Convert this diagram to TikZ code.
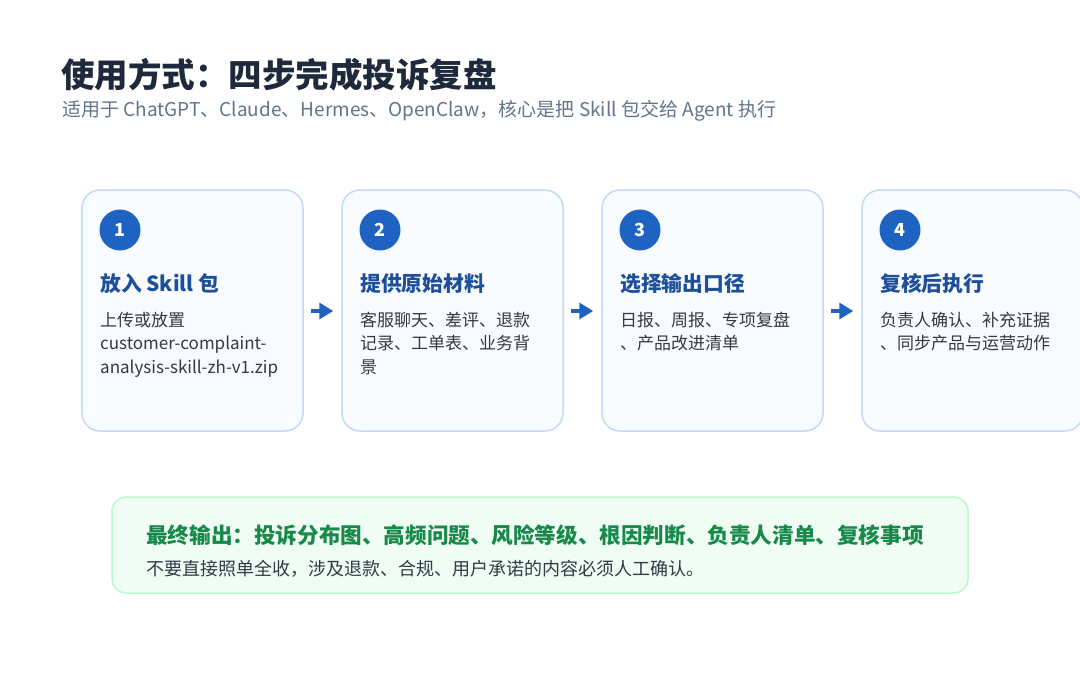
\documentclass[tikz,border=0pt]{standalone}
\usepackage{fontspec}
\setmainfont{Noto Sans CJK SC}
\usetikzlibrary{arrows.meta}
\definecolor{titlec}{HTML}{1E293B}
\definecolor{subc}{HTML}{64748B}
\definecolor{cardborder}{HTML}{C3D9F5}
\definecolor{cardfill}{HTML}{F8FBFF}
\definecolor{bluec}{HTML}{1E63C2}
\definecolor{headc}{HTML}{1D4F9A}
\definecolor{bodyc}{HTML}{333A45}
\definecolor{greenfill}{HTML}{F0FDF4}
\definecolor{greenborder}{HTML}{BBF7D0}
\definecolor{greenc}{HTML}{178A4A}
\tikzset{
  card/.style={draw=cardborder, line width=1.5pt, fill=cardfill, rounded corners=18pt,
    minimum width=221pt, minimum height=241pt, inner sep=0pt},
  numdot/.style={circle, fill=bluec, minimum size=41pt, inner sep=0pt, text=white,
    font=\fontsize{18}{20}\selectfont\bfseries},
  headtxt/.style={anchor=west, inner sep=0pt, text=headc, font=\fontsize{20.8}{24}\selectfont\bfseries},
  bodytxt/.style={anchor=north west, inner sep=0pt, text=bodyc, align=left,
    font=\fontsize{17}{23.3}\selectfont},
  flow/.style={draw=bluec, line width=4pt, -{Triangle[length=14pt,width=16pt]},
    shorten <=7pt, shorten >=8pt},
}
\begin{document}
\begin{tikzpicture}[x=1pt,y=-1pt]
\useasboundingbox (0,0) rectangle (1080,675);
\clip (0,0) rectangle (1080,675);
\fill[white] (0,0) rectangle (1080,675);
% title
\node[anchor=west, inner sep=0pt, text=titlec, font=\fontsize{33.5}{38}\selectfont\bfseries] (title) at (61,75) {使用方式：四步完成投诉复盘};
\node[anchor=west, inner sep=0pt, text=subc, font=\fontsize{19}{22}\selectfont] (sub) at (62,111) {适用于 ChatGPT、Claude、Hermes、OpenClaw，核心是把 Skill 包交给 Agent 执行};
% cards
\node[card] (c1) at (192.5,310.5) {};
\node[card] (c2) at (452.5,310.5) {};
\node[card] (c3) at (712.5,310.5) {};
\node[card] (c4) at (972.5,310.5) {};
% numbers
\node[numdot] (n1) at (120,230) {1};
\node[numdot] (n2) at (380,230) {2};
\node[numdot] (n3) at (640,230) {3};
\node[numdot] (n4) at (900,230) {4};
% headings
\node[headtxt] (h1) at (100,284) {放入 Skill 包};
\node[headtxt] (h2) at (360,284) {提供原始材料};
\node[headtxt] (h3) at (620,284) {选择输出口径};
\node[headtxt] (h4) at (880,284) {复核后执行};
% bodies
\node[bodytxt] (b1) at (100,312) {上传或放置\\customer-complaint-\\analysis-skill-zh-v1.zip};
\node[bodytxt] (b2) at (360,312) {客服聊天、差评、退款\\记录、工单表、业务背\\景};
\node[bodytxt] (b3) at (620,312) {日报、周报、专项复盘\\、产品改进清单};
\node[bodytxt] (b4) at (880,312) {负责人确认、补充证据\\、同步产品与运营动作};
% arrows
\draw[flow] (c1.east |- 0,311) -- (c2.west |- 0,311);
\draw[flow] (c2.east |- 0,311) -- (c3.west |- 0,311);
\draw[flow] (c3.east |- 0,311) -- (c4.west |- 0,311);
% bottom box
\node[draw=greenborder, line width=1.5pt, fill=greenfill, rounded corners=14pt,
  minimum width=856pt, minimum height=96pt, inner sep=0pt] (out) at (540,545) {};
\node[anchor=west, inner sep=0pt, text=greenc, font=\fontsize{21.6}{24}\selectfont\bfseries] (outh) at (146,535) {最终输出：投诉分布图、高频问题、风险等级、根因判断、负责人清单、复核事项};
\node[anchor=west, inner sep=0pt, text=bodyc, font=\fontsize{18}{22}\selectfont] (outb) at (146,569) {不要直接照单全收，涉及退款、合规、用户承诺的内容必须人工确认。};
\end{tikzpicture}
\end{document}
